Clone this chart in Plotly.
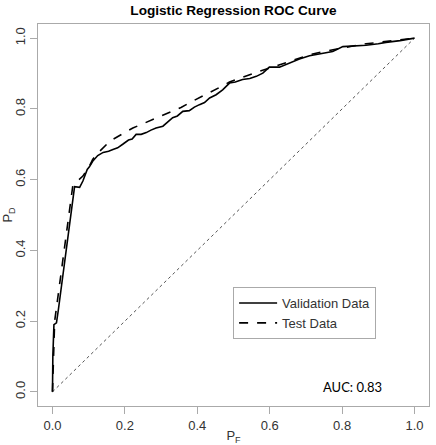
import plotly.graph_objects as go

val_fpr = [0.0, 0.001, 0.004, 0.011, 0.016, 0.03, 0.045, 0.061, 0.075, 0.084, 0.096, 0.102, 0.111, 0.125, 0.14, 0.155,
           0.167, 0.18, 0.194, 0.21, 0.22, 0.231, 0.245, 0.259, 0.272, 0.286, 0.305, 0.318, 0.332, 0.345,
           0.36, 0.378, 0.392, 0.406, 0.42, 0.434, 0.452, 0.47, 0.489, 0.505, 0.525, 0.545, 0.563, 0.581,
           0.599, 0.627, 0.655, 0.682, 0.71, 0.738, 0.774, 0.802, 0.83, 0.866, 0.9, 0.921, 0.96, 1.0]
val_tpr = [0.0, 0.10, 0.19, 0.195, 0.23, 0.34, 0.46, 0.58, 0.578, 0.596, 0.629, 0.636, 0.652, 0.668, 0.677, 0.68,
           0.685, 0.69, 0.70, 0.712, 0.715, 0.728, 0.728, 0.733, 0.74, 0.746, 0.751, 0.762, 0.775, 0.78,
           0.793, 0.795, 0.805, 0.812, 0.818, 0.831, 0.84, 0.854, 0.873, 0.876, 0.883, 0.886, 0.892, 0.901,
           0.918, 0.918, 0.93, 0.941, 0.95, 0.956, 0.962, 0.976, 0.977, 0.98, 0.984, 0.988, 0.993, 1.0]

test_fpr = [0.0, 0.002, 0.006, 0.01, 0.025, 0.04, 0.056, 0.065, 0.084, 0.102, 0.111, 0.13, 0.15, 0.167, 0.195,
            0.222, 0.25, 0.277, 0.305, 0.332, 0.355, 0.378, 0.406, 0.434, 0.46, 0.489, 0.515, 0.544, 0.57,
            0.599, 0.627, 0.655, 0.682, 0.71, 0.74, 0.77, 0.8, 0.83, 0.866, 0.9, 0.93, 0.96, 1.0]
test_tpr = [0.0, 0.10, 0.20, 0.23, 0.35, 0.47, 0.582, 0.592, 0.61, 0.638, 0.657, 0.68, 0.70, 0.714, 0.73,
            0.746, 0.758, 0.77, 0.782, 0.793, 0.804, 0.817, 0.831, 0.845, 0.86, 0.876, 0.886, 0.897, 0.906,
            0.915, 0.925, 0.934, 0.944, 0.953, 0.96, 0.966, 0.973, 0.978, 0.984, 0.988, 0.992, 0.995, 1.0]

diag = [0.0, 1.0]
ticks = [0.0, 0.2, 0.4, 0.6, 0.8, 1.0]
tick_text = ["0.0", "0.2", "0.4", "0.6", "0.8", "1.0"]

fig = go.Figure()
fig.add_trace(go.Scatter(x=diag, y=diag, mode="lines", line=dict(color="#555", width=1, dash="dot"),
                         showlegend=False, hoverinfo="skip"))
fig.add_trace(go.Scatter(x=val_fpr, y=val_tpr, mode="lines", name="Validation Data",
                         line=dict(color="black", width=1.6)))
fig.add_trace(go.Scatter(x=test_fpr, y=test_tpr, mode="lines", name="Test Data",
                         line=dict(color="black", width=1.6, dash="dash")))

axis_common = dict(range=[-0.04, 1.04], showgrid=False, zeroline=False, showline=True, mirror=True,
                   linecolor="#aaaaaa", linewidth=1, ticks="outside", ticklen=7, tickcolor="#aaaaaa",
                   tickvals=ticks, ticktext=tick_text, automargin=False,
                   tickfont=dict(family="Liberation Sans, Arial", size=13, color="#333"))

fig.update_xaxes(**axis_common, title=dict(text="P<sub>F</sub>", standoff=0,
                                           font=dict(family="Liberation Sans, Arial", size=13, color="#333")))
fig.update_yaxes(**axis_common, tickangle=-90,
                 title=dict(text="P<sub>D</sub>", standoff=2,
                            font=dict(family="Liberation Sans, Arial", size=13, color="#333")))

fig.add_annotation(x=0.83, y=0.015, xref="x", yref="y", text="AUC: 0.83", showarrow=False,
                   font=dict(family="Lato, Liberation Sans", size=13, color="black"))

fig.update_layout(
    width=436, height=445,
    margin=dict(l=38, r=7, t=24, b=39, autoexpand=False),
    paper_bgcolor="white", plot_bgcolor="white",
    title=dict(text="<b>Logistic Regression ROC Curve</b>", x=0.5355, xanchor="center", y=0.978, yanchor="middle",
               font=dict(family="Liberation Sans, Arial", size=13.6, color="black")),
    legend=dict(x=0.499, y=0.3115, xanchor="left", yanchor="top", bordercolor="#aaaaaa", borderwidth=1,
                bgcolor="white", font=dict(family="Liberation Sans, Arial", size=13, color="#333"),
                tracegroupgap=0, itemwidth=38),
    showlegend=True,
)

fig.write_html("out.html")
